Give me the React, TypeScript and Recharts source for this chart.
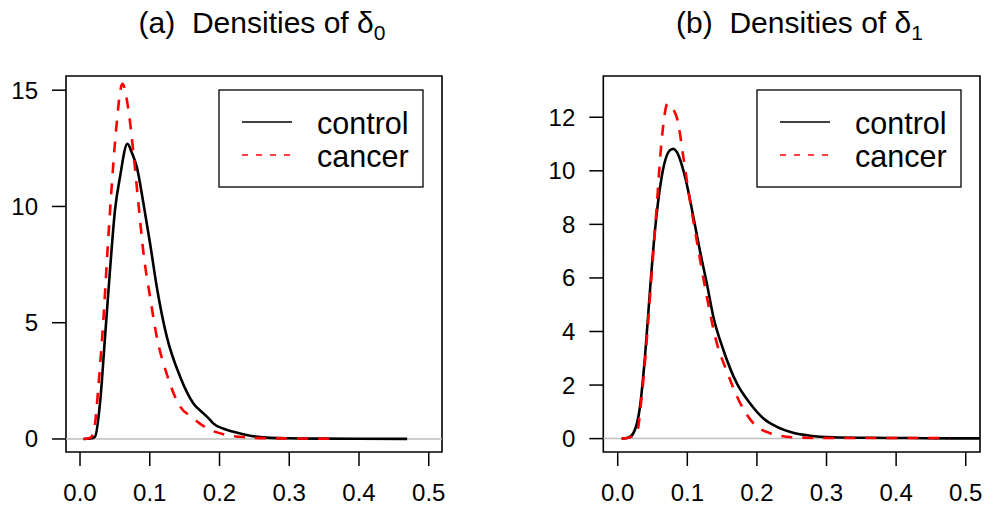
import React from 'react';
import { LineChart, Line, XAxis, YAxis, ReferenceLine, ReferenceArea, Legend } from 'recharts';

const FONT = '"Liberation Sans", Arial, Helvetica, sans-serif';

// (a) densities of delta_0
const ctrlX0 = [0.005, 0.015, 0.0215, 0.0287, 0.0359, 0.043, 0.0502, 0.0574, 0.0679, 0.0745, 0.0813, 0.0909, 0.1004, 0.11, 0.1244, 0.1435, 0.1626, 0.177, 0.1865, 0.191, 0.205, 0.22, 0.244, 0.268, 0.3, 0.35, 0.4, 0.469];
const ctrlY0 = [0, 0.02, 0.1, 1.55, 4.4, 7.27, 9.85, 11.28, 12.69, 12.3, 11.71, 10.14, 8.42, 6.55, 4.4, 2.68, 1.53, 1.1, 0.82, 0.67, 0.45, 0.31, 0.14, 0.06, 0.03, 0.015, 0.01, 0.005];
const cancX0 = [0.005, 0.015, 0.0215, 0.0263, 0.0335, 0.0392, 0.0454, 0.0517, 0.0607, 0.0694, 0.0766, 0.0837, 0.091, 0.1004, 0.11, 0.124, 0.1435, 0.16, 0.182, 0.206, 0.239, 0.27, 0.32, 0.37];
const cancY0 = [0, 0.05, 0.67, 2.25, 5.12, 7.99, 10.85, 13.29, 15.27, 14.15, 12.29, 10.14, 7.99, 6.12, 4.4, 2.83, 1.39, 0.95, 0.46, 0.2, 0.07, 0.03, 0.02, 0.01];

// (b) densities of delta_1
const ctrlX1 = [0.0057, 0.015, 0.0224, 0.032, 0.0392, 0.0464, 0.0536, 0.0632, 0.0751, 0.08, 0.0847, 0.0967, 0.1087, 0.118, 0.128, 0.1374, 0.1518, 0.171, 0.19, 0.209, 0.228, 0.252, 0.276, 0.31, 0.36, 0.42, 0.48, 0.54];
const ctrlY1 = [0, 0.03, 0.2, 1.19, 3.06, 5.55, 7.79, 9.78, 10.77, 10.82, 10.71, 9.78, 8.28, 7.03, 5.8, 4.55, 3.31, 2.07, 1.32, 0.76, 0.45, 0.22, 0.11, 0.05, 0.03, 0.02, 0.01, 0.01];
const cancX1 = [0.0057, 0.015, 0.0273, 0.0345, 0.0417, 0.0489, 0.056, 0.0632, 0.0715, 0.0847, 0.0943, 0.1014, 0.1135, 0.128, 0.142, 0.157, 0.176, 0.195, 0.219, 0.252, 0.3, 0.36, 0.42, 0.477];
const cancY1 = [0, 0.03, 0.2, 1.57, 3.68, 6.17, 8.66, 11.15, 12.5, 12.01, 10.52, 9.28, 7.41, 5.3, 3.6, 2.5, 1.32, 0.57, 0.2, 0.05, 0.02, 0.02, 0.02, 0.02];

const xTicks = [0, 0.1, 0.2, 0.3, 0.4, 0.5];
const yTicksA = [0, 5, 10, 15];
const yTicksB = [0, 2, 4, 6, 8, 10, 12];
const seriesNames = ['control', 'cancer'];

const zip = (xs: number[], ys: number[]) => xs.map((x, i) => ({ x, y: ys[i] }));

const LegendBox = () => (
    <svg width={206} height={99} style={{ display: 'block' }}>
        <rect x={1} y={1} width={204} height={97} fill="#fff" stroke="#000" strokeWidth={1.3} />
        <line x1={24} x2={74} y1={33} y2={33} stroke="#000" strokeWidth={1.3} />
        <line x1={24} x2={74} y1={66} y2={66} stroke="#ff0000" strokeWidth={1.3} strokeDasharray="6 8" />
        <text x={99} y={45} fontSize={30.5} fontFamily={FONT} fill="#000">{seriesNames[0]}</text>
        <text x={99} y={78} fontSize={30.5} fontFamily={FONT} fill="#000">{seriesNames[1]}</text>
    </svg>
);

type PanelProps = {
    left: number;
    control: { x: number; y: number }[];
    cancer: { x: number; y: number }[];
    yTicks: number[];
    xDomain: [number, number];
    yDomain: [number, number];
    marginLeft: number;
    marginRight: number;
    legendLeft: number;
};

const Panel: React.FC<PanelProps> = ({ left, control, cancer, yTicks, xDomain, yDomain, marginLeft, marginRight, legendLeft }) => (
    <div style={{ position: 'absolute', left, top: 0 }}>
        <LineChart width={495} height={508} margin={{ top: 76, right: marginRight, bottom: 0, left: marginLeft }}>
            <XAxis
                type="number"
                dataKey="x"
                domain={xDomain}
                allowDataOverflow
                ticks={xTicks}
                tickFormatter={(v: number) => v.toFixed(1)}
                axisLine={false}
                tickLine={{ stroke: '#000', strokeWidth: 1.5 }}
                tickSize={14}
                tickMargin={18}
                height={56}
                interval={0}
                tick={{ fontSize: 24, fill: '#000', fontFamily: FONT }}
            />
            <YAxis
                type="number"
                domain={yDomain}
                allowDataOverflow
                ticks={yTicks}
                axisLine={false}
                tickLine={{ stroke: '#000', strokeWidth: 1.5 }}
                tickSize={14}
                tickMargin={14}
                width={60}
                interval={0}
                tick={{ fontSize: 24, fill: '#000', fontFamily: FONT }}
            />
            <ReferenceLine y={0} stroke="#bebebe" strokeWidth={1.5} />
            <Line data={control} dataKey="y" name={seriesNames[0]} type="monotone" dot={false} stroke="#000" strokeWidth={2.6} isAnimationActive={false} />
            <Line data={cancer} dataKey="y" name={seriesNames[1]} type="monotone" dot={false} stroke="#ff0000" strokeWidth={2.6} strokeDasharray="11 10" isAnimationActive={false} />
            <ReferenceArea x1={xDomain[0]} x2={xDomain[1]} y1={yDomain[0]} y2={yDomain[1]} fill="none" fillOpacity={0} stroke="#000" strokeWidth={1.6} />
            <Legend
                layout="vertical"
                align="center"
                verticalAlign="middle"
                content={() => <LegendBox />}
                wrapperStyle={{ left: legendLeft, top: 89, width: 206, height: 99 }}
            />
        </LineChart>
    </div>
);

// title like R plotmath: "(a)  Densities of delta[0]"
const Title = ({ cx, tag, sub }: { cx: number; tag: string; sub: string }) => (
    <text x={cx + 8} y={33} textAnchor="middle" fontFamily={FONT} fontSize={30} fill="#000" style={{ whiteSpace: 'pre' }}>
        {`${tag}  Densities of `}
        <tspan>δ</tspan>
        <tspan fontSize={21} dy={7}>{sub}</tspan>
    </text>
);

export default function App() {
    return (
        <div style={{ position: 'absolute', left: 0, top: 0, width: 990, height: 508, background: '#fff', overflow: 'hidden' }}>
            <Panel
                left={0}
                control={zip(ctrlX0, ctrlY0)}
                cancer={zip(cancX0, cancY0)}
                yTicks={yTicksA}
                xDomain={[-0.0201, 0.519]}
                yDomain={[-0.56, 15.61]}
                marginLeft={6}
                marginRight={53}
                legendLeft={218}
            />
            <Panel
                left={495}
                control={zip(ctrlX1, ctrlY1)}
                cancer={zip(cancX1, cancY1)}
                yTicks={yTicksB}
                xDomain={[-0.0207, 0.5205]}
                yDomain={[-0.5, 13.54]}
                marginLeft={48.3}
                marginRight={10}
                legendLeft={261}
            />
            <svg width={990} height={60} style={{ position: 'absolute', left: 0, top: 0 }}>
                <Title cx={254} tag="(a)" sub="0" />
                <Title cx={791.5} tag="(b)" sub="1" />
            </svg>
        </div>
    );
}
